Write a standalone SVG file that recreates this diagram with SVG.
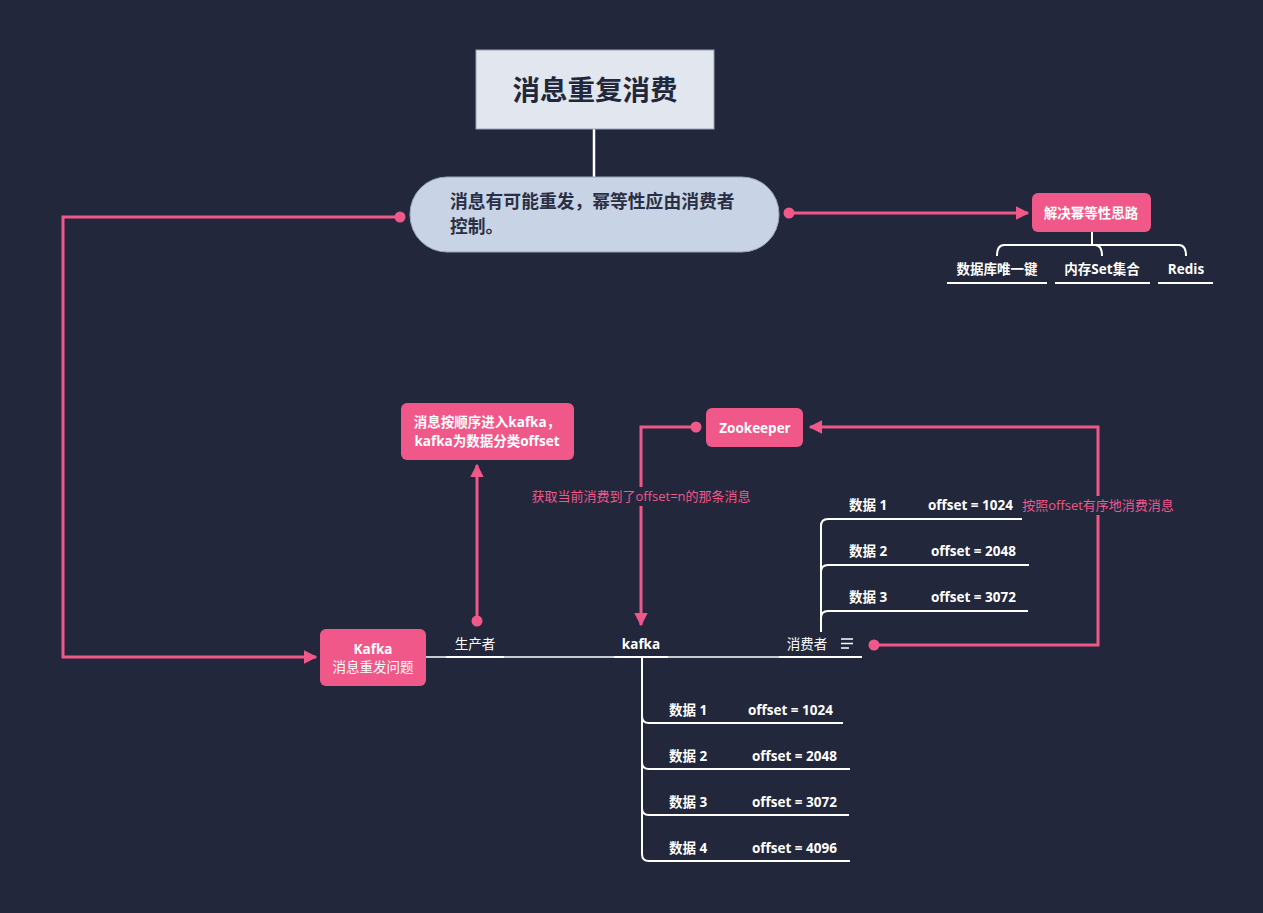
<svg xmlns="http://www.w3.org/2000/svg" width="1263" height="913" viewBox="0 0 1263 913">
<defs>
<style>
.t{font-family:"Open Sans","Noto Sans CJK SC",sans-serif;}
.w{fill:#ffffff;font-size:13.5px;font-weight:bold;}
.pk{fill:#f0588a;}
.pl{stroke:#f0588a;stroke-width:3;fill:none;}
.wl{stroke:#ffffff;stroke-width:2;fill:none;}
.gl{stroke:#c9cbd3;stroke-width:2;fill:none;}
.lbl{fill:#f0588a;font-size:13px;}
</style>
<marker id="ah" viewBox="0 0 10 10" refX="9" refY="5" markerWidth="4.5" markerHeight="4.5" orient="auto-start-reverse" markerUnits="strokeWidth">
<path d="M0,0 L10,5 L0,10 z" fill="#f0588a"/>
</marker>
</defs>
<rect width="1263" height="913" fill="#22273b"/>

<g id="connectors">
<line x1="594" y1="129" x2="594" y2="178" stroke="#ffffff" stroke-width="2.5"/>
<path class="pl" d="M400,217 H63 V657 H316" marker-end="url(#ah)"/>
<circle cx="400" cy="217" r="5.5" fill="#f0588a"/>
<path class="pl" d="M789,213 H1028" marker-end="url(#ah)"/>
<circle cx="789" cy="213" r="5.5" fill="#f0588a"/>
<path class="wl" d="M1092,232 V245 M1004,245 H1179 M997,256 Q997,245 1004,245 M1186,256 Q1186,245 1179,245 M1102,256 Q1102,245 1095,245"/>
<line class="wl" x1="947" y1="283" x2="1047" y2="283"/>
<line class="wl" x1="1055" y1="283" x2="1150" y2="283"/>
<line class="wl" x1="1158" y1="283" x2="1213" y2="283"/>
<path class="pl" d="M477,621 V465" marker-end="url(#ah)"/>
<circle cx="477" cy="621" r="5.5" fill="#f0588a"/>
<path class="pl" d="M696,427 H641 V625" marker-end="url(#ah)"/>
<circle cx="696" cy="427" r="5.5" fill="#f0588a"/>
<path class="pl" d="M874,645 H1098 V427 H810" marker-end="url(#ah)"/>
<circle cx="874" cy="645" r="5.5" fill="#f0588a"/>
<rect x="526" y="487" width="230" height="19" fill="#22273b"/>
<text class="t lbl" x="641" y="501" text-anchor="middle">获取当前消费到了offset=n的那条消息</text>
<rect x="1018" y="496" width="160" height="19" fill="#22273b"/>
<text class="t lbl" x="1098" y="510" text-anchor="middle">按照offset有序地消费消息</text>
<line class="gl" x1="426" y1="657" x2="862" y2="657"/>
<line class="wl" x1="446" y1="657" x2="504" y2="657"/>
<line class="wl" x1="614" y1="657" x2="668" y2="657"/>
<line class="wl" x1="779" y1="657" x2="862" y2="657"/>
<path class="wl" d="M821,632 V526 Q821,519 828,519 H1022 M821,572 Q821,565 828,565 H1029 M821,618 Q821,611 828,611 H1028"/>
<path class="wl" d="M642,657 V854 Q642,861 649,861 H850 M642,716 Q642,723 649,723 H843 M642,762 Q642,769 649,769 H850 M642,808 Q642,815 649,815 H849"/>
</g>

<g id="title">
<rect x="476" y="50" width="238" height="79" fill="#e1e6ef" stroke="#9aa2b4" stroke-width="1"/>
<text class="t" x="595" y="100" text-anchor="middle" font-size="27.5" font-weight="bold" fill="#22273b">消息重复消费</text>
</g>

<g id="main">
<rect x="410" y="177" width="369" height="75" rx="37" fill="#c8d3e6" stroke="#9aa6bd" stroke-width="1"/>
<text class="t" font-size="17.8" font-weight="bold" fill="#2a2f45"><tspan x="450" y="208">消息有可能重发，幂等性应由消费者</tspan><tspan x="450" y="233">控制。</tspan></text>
</g>

<g id="idem">
<rect x="1032" y="193" width="119" height="39" rx="6" class="pk"/>
<text class="t w" x="1091" y="218" text-anchor="middle" font-size="14">解决幂等性思路</text>
</g>
<g id="db"><text class="t w" x="997" y="274" text-anchor="middle">数据库唯一键</text></g>
<g id="set"><text class="t w" x="1102" y="274" text-anchor="middle">内存Set集合</text></g>
<g id="redis"><text class="t w" x="1186" y="274" text-anchor="middle" font-size="14.5">Redis</text></g>

<g id="kafka-issue">
<rect x="320" y="629" width="106" height="57" rx="6" class="pk"/>
<text class="t w" x="373" y="654" text-anchor="middle" font-size="14">Kafka</text>
<text class="t" x="373" y="672" text-anchor="middle" font-size="13.5" fill="#ffffff">消息重发问题</text>
</g>

<g id="order">
<rect x="401" y="403" width="173" height="57" rx="6" class="pk"/>
<text class="t w" x="487" y="427" text-anchor="middle">消息按顺序进入kafka，</text>
<text class="t w" x="487" y="446" text-anchor="middle">kafka为数据分类offset</text>
</g>

<g id="zookeeper">
<rect x="706" y="408" width="97" height="39" rx="6" class="pk"/>
<text class="t w" x="755" y="433" text-anchor="middle" font-size="14.5">Zookeeper</text>
</g>

<g id="producer"><text class="t" x="475" y="649" text-anchor="middle" font-size="13.5" fill="#ffffff">生产者</text></g>
<g id="kafka"><text class="t w" x="641" y="649" text-anchor="middle">kafka</text></g>
<g id="consumer">
<text class="t" x="807" y="649" text-anchor="middle" font-size="13.5" fill="#ffffff">消费者</text>
<path d="M841,639 H853 M841,643.5 H853 M841,648 H849" stroke="#ffffff" stroke-width="1.3"/>
</g>

<g id="c1"><text class="t w" x="849" y="510">数据 1</text><text class="t w" x="928" y="510">offset = 1024</text></g>
<g id="c2"><text class="t w" x="849" y="556">数据 2</text><text class="t w" x="931" y="556">offset = 2048</text></g>
<g id="c3"><text class="t w" x="849" y="602">数据 3</text><text class="t w" x="931" y="602">offset = 3072</text></g>

<g id="k1"><text class="t w" x="669" y="715">数据 1</text><text class="t w" x="748" y="715">offset = 1024</text></g>
<g id="k2"><text class="t w" x="669" y="761">数据 2</text><text class="t w" x="752" y="761">offset = 2048</text></g>
<g id="k3"><text class="t w" x="669" y="807">数据 3</text><text class="t w" x="752" y="807">offset = 3072</text></g>
<g id="k4"><text class="t w" x="669" y="853">数据 4</text><text class="t w" x="752" y="853">offset = 4096</text></g>
</svg>
